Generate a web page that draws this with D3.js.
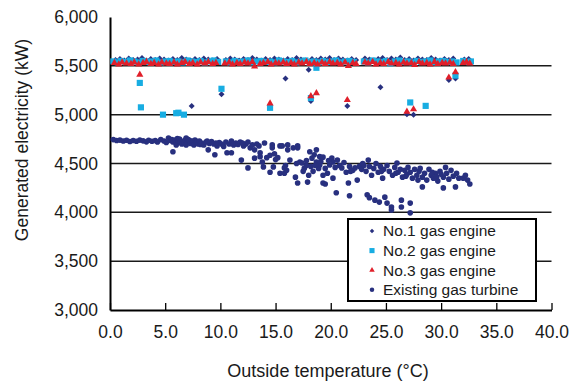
<!DOCTYPE html>
<html>
<head>
<meta charset="utf-8">
<script src="https://cdn.jsdelivr.net/npm/d3@7"></script>
<style>
  body { margin: 0; background: #fff; }
  svg { font-family: "Liberation Sans", Arial, sans-serif; }
</style>
</head>
<body>
<div id="chart"></div>
<script>
// tick values
var xTicks = [0, 5, 10, 15, 20, 25, 30, 35, 40];
var yTicks = [3000, 3500, 4000, 4500, 5000, 5500, 6000];
var gridValues = [3500, 4000, 4500, 5000, 5500];

var seriesNames = ["No.1 gas engine", "No.2 gas engine", "No.3 gas engine", "Existing gas turbine"];

// [outside temperature, kW]
var engine1 = [
  [0.5,5560],[0.9,5570],[1.3,5555],[1.7,5575],[2.1,5560],[2.5,5565],[2.9,5580],[3.3,5555],[3.7,5570],[4.1,5560],
  [4.5,5575],[4.9,5565],[5.3,5555],[5.7,5570],[6.1,5560],[6.5,5580],[6.9,5565],[7.3,5555],[7.7,5570],[8.1,5560],
  [8.5,5575],[8.9,5565],[9.3,5555],[9.7,5570],[10.5,5560],[10.9,5575],[11.3,5565],[11.7,5555],[12.1,5570],[12.5,5560],
  [12.9,5580],[13.3,5565],[13.7,5555],[14.1,5570],[14.5,5560],[14.9,5575],[15.3,5565],[15.7,5555],[16.1,5570],[16.5,5560],
  [16.9,5580],[17.3,5565],[17.7,5555],[18.3,5570],[18.7,5560],[19.1,5575],[19.5,5565],[19.9,5580],[20.3,5560],[20.7,5575],
  [21.1,5565],[21.5,5555],[21.9,5570],[22.3,5560],[23.1,5575],[23.5,5565],[23.9,5555],[24.3,5570],[24.7,5580],[25.1,5560],
  [25.5,5575],[25.9,5565],[26.3,5585],[26.7,5560],[27.1,5570],[27.5,5555],[27.9,5575],[28.3,5565],[28.7,5560],[29.1,5580],
  [29.5,5565],[29.9,5555],[30.3,5570],[30.7,5560],[31.1,5575],[32.1,5565],[32.5,5570],
  [7.4,5090],[10.1,5210],[15.9,5370],[18.0,5460],[18.2,5140],[21.5,5090],[24.5,5280],[26.9,5005],[27.5,5000],[30.7,5355],[31.3,5370]
];

var engine2 = [
  [0.3,5545],[0.7,5535],[1.0,5550],[1.4,5540],[1.8,5555],[2.2,5545],[2.6,5535],[3.0,5550],[3.4,5540],[3.8,5545],
  [4.2,5555],[4.6,5535],[5.0,5545],[5.4,5550],[5.8,5540],[6.2,5545],[6.6,5535],[7.0,5555],[7.4,5545],[7.8,5540],
  [8.2,5550],[8.6,5535],[9.0,5545],[9.4,5555],[9.8,5540],[10.5,5545],[10.9,5535],[11.3,5550],[11.7,5540],[12.1,5545],
  [12.5,5555],[12.9,5535],[13.3,5545],[13.7,5550],[14.1,5540],[14.5,5545],[14.9,5535],[15.3,5555],[15.7,5545],[16.1,5540],
  [16.5,5550],[16.9,5535],[17.3,5545],[17.7,5555],[18.1,5540],[18.5,5545],[18.9,5535],[19.3,5550],[19.7,5540],[20.1,5545],
  [20.5,5555],[20.9,5535],[21.3,5545],[21.7,5550],[22.1,5540],[23.0,5545],[23.4,5535],[23.8,5555],[24.2,5545],[24.6,5540],
  [25.0,5550],[25.4,5525],[25.8,5545],[26.2,5555],[26.6,5540],[27.0,5545],[27.4,5535],[27.8,5550],[28.2,5540],[28.6,5545],
  [29.0,5555],[29.4,5535],[29.8,5545],[30.2,5550],[30.6,5540],[31.0,5545],[31.4,5535],[32.0,5550],[32.4,5540],[32.7,5545],
  [2.7,5325],[2.8,5075],[4.8,5000],[6.0,5015],[6.2,5020],[6.7,5000],[10.1,5265],[14.5,5070],[18.7,5480],[18.2,5170],
  [27.2,5125],[28.6,5090],[31.3,5400]
];

var engine3 = [
  [0.4,5530],[0.8,5515],[1.1,5535],[1.5,5525],[1.9,5520],[2.2,5535],[2.6,5515],[3.0,5530],[3.3,5540],[3.7,5520],
  [4.0,5530],[4.4,5515],[4.7,5535],[5.1,5525],[5.4,5520],[5.8,5535],[6.1,5515],[6.5,5530],[6.8,5540],[7.2,5520],
  [7.5,5530],[7.9,5515],[8.2,5535],[8.6,5525],[8.9,5540],[9.3,5520],[9.6,5530],[10.4,5525],[10.8,5535],[11.1,5515],
  [11.5,5530],[11.8,5520],[12.2,5535],[12.5,5525],[12.9,5540],[13.1,5495],[13.6,5520],[13.9,5530],[14.3,5540],[14.6,5515],
  [15.0,5530],[15.3,5525],[15.7,5535],[16.0,5520],[16.4,5530],[16.7,5515],[17.1,5535],[17.4,5525],[17.8,5540],[18.1,5520],
  [18.5,5530],[18.8,5515],[19.2,5535],[19.5,5520],[19.9,5540],[20.2,5525],[20.6,5530],[20.9,5515],[21.3,5535],[21.6,5500],
  [22.0,5530],[22.3,5520],[23.1,5535],[23.4,5525],[23.8,5540],[24.1,5515],[24.5,5530],[24.8,5520],[25.2,5540],[25.5,5525],
  [25.9,5530],[26.2,5515],[26.6,5535],[26.9,5525],[27.3,5530],[27.6,5510],[28.0,5540],[28.3,5525],[28.7,5530],[29.0,5515],
  [29.4,5540],[29.7,5520],[30.1,5530],[30.4,5525],[30.8,5535],[31.1,5520],[32.0,5530],[32.3,5540],[32.6,5525],
  [2.7,5410],[14.5,5115],[18.2,5190],[18.7,5220],[21.5,5150],[26.9,5030],[27.5,5055],[30.7,5380],[31.3,5435]
];

var turbine = [
  [0.3,4745],[0.6,4735],[0.9,4740],[1.2,4730],[1.5,4738],[1.8,4725],[2.1,4735],[2.4,4728],[2.7,4740],[3.0,4732],
  [3.3,4722],[3.5,4738],[3.8,4728],[4.1,4735],[4.3,4720],[4.6,4745],[4.9,4730],[5.1,4715],[5.3,4760],[5.5,4735],
  [5.6,4745],[5.7,4720],[5.7,4620],[5.9,4740],[6.0,4710],[6.0,4690],[6.1,4755],[6.2,4730],[6.3,4750],[6.4,4720],
  [6.5,4700],[6.6,4725],[6.7,4705],[6.8,4740],[6.9,4690],[6.9,4760],[7.0,4715],[7.1,4745],[7.2,4735],[7.3,4705],
  [7.4,4730],[7.5,4725],[7.6,4690],[7.7,4740],[7.8,4715],[7.9,4725],[8.0,4700],[8.1,4730],[8.2,4695],[8.3,4710],
  [8.5,4690],[8.7,4720],[8.9,4640],[9.0,4705],[9.2,4725],[9.4,4700],[9.5,4590],[9.7,4680],[9.9,4715],[10.1,4700],
  [10.3,4675],[10.5,4720],[10.6,4610],[10.8,4700],[11.0,4610],[11.0,4730],[11.2,4690],[11.4,4710],[11.6,4695],[11.8,4720],
  [11.9,4535],[12.1,4680],[12.3,4700],[12.5,4720],[12.5,4455],[12.7,4660],[12.9,4690],[13.1,4555],[13.1,4640],[13.3,4700],
  [13.6,4610],[13.6,4570],[13.8,4515],[13.9,4465],[14.0,4710],[14.2,4560],[14.5,4410],[14.5,4585],[14.7,4690],[14.7,4660],
  [14.8,4465],[15.0,4540],[15.2,4560],[15.4,4400],[15.4,4680],[15.6,4680],[15.8,4455],[15.8,4400],[16.0,4430],[16.1,4690],
  [16.1,4640],[16.3,4535],[16.6,4660],[16.8,4360],[17.0,4660],[17.0,4300],[17.0,4680],[17.2,4515],[17.4,4505],[17.5,4420],
  [17.6,4450],[17.8,4480],[17.8,4530],[17.9,4310],[18.0,4380],[18.1,4620],[18.2,4470],[18.3,4555],[18.4,4420],[18.5,4590],
  [18.7,4640],[18.7,4515],[18.9,4450],[19.0,4485],[19.0,4570],[19.1,4520],[19.3,4565],[19.3,4380],[19.3,4300],[19.5,4290],
  [19.5,4450],[19.7,4400],[19.9,4485],[20.1,4555],[20.2,4515],[20.2,4350],[20.5,4200],[20.6,4535],[20.8,4480],[21.0,4455],
  [21.2,4510],[21.4,4410],[21.6,4300],[21.7,4170],[21.7,4470],[22.0,4430],[22.2,4455],[22.4,4330],[22.6,4470],[22.8,4440],
  [23.0,4480],[23.2,4420],[23.4,4535],[23.5,4470],[23.3,4180],[23.5,4150],[23.7,4380],[23.9,4450],[24.0,4125],[24.1,4500],
  [24.3,4410],[24.4,4105],[24.5,4470],[24.7,4350],[24.8,4440],[24.9,4155],[25.1,4095],[25.1,4480],[25.3,4420],[25.5,4055],
  [25.5,4025],[25.6,4380],[25.8,4460],[26.0,4505],[26.1,4410],[26.3,4440],[26.4,4125],[26.4,4055],[26.5,4360],[26.7,4430],
  [26.9,4390],[27.0,4460],[27.2,4095],[27.2,3995],[27.2,4410],[27.4,4350],[27.6,4440],[27.8,4380],[28.0,4420],[28.3,4260],
  [28.3,4360],[28.5,4400],[28.7,4330],[28.9,4440],[29.1,4380],[29.3,4350],[29.5,4400],[29.7,4320],[29.9,4420],[30.2,4250],
  [30.2,4360],[30.4,4460],[30.5,4400],[30.7,4340],[30.9,4430],[31.1,4370],[31.3,4260],[31.4,4400],[31.6,4350],[32.0,4350],
  [32.2,4380],[32.4,4330],[32.6,4290],
  [26.8,4370],[27.9,4330],[28.1,4450],[29.2,4410],[29.6,4360],[30.0,4390],[24.6,4420],[25.9,4400],[22.9,4500],[21.8,4420],
  [20.4,4460],[19.8,4530],[18.6,4480],[16.9,4500],[15.9,4480],[14.9,4600],[13.5,4680],[12.0,4710],[9.6,4710],[8.8,4730]
];

var svg = d3.select('#chart').append('svg')
  .attr('width', 571).attr('height', 383);

var xScale = d3.scaleLinear().domain([0, 40]).range([110, 551.5]);
var yScale = d3.scaleLinear().domain([3000, 6000]).range([310, 17]);

// gridlines
svg.append('g').selectAll('line')
  .data(gridValues).enter().append('line')
  .attr('x1', xScale(0)).attr('x2', xScale(40))
  .attr('y1', function(d) { return yScale(d); })
  .attr('y2', function(d) { return yScale(d); })
  .attr('stroke', '#1a1a1a').attr('stroke-width', 1.5);

// axes
var xAxis = d3.axisBottom(xScale)
  .tickValues(xTicks)
  .tickFormat(d3.format('.1f'))
  .tickSizeInner(-7).tickSizeOuter(0)
  .tickPadding(16);

var yAxis = d3.axisLeft(yScale)
  .tickValues(yTicks)
  .tickFormat(d3.format(','))
  .tickSize(0)
  .tickPadding(12);

var gx = svg.append('g')
  .attr('transform', 'translate(0,' + yScale(3000) + ')')
  .call(xAxis);
var gy = svg.append('g')
  .attr('transform', 'translate(' + xScale(0) + ',0)')
  .call(yAxis);

[gx, gy].forEach(function(g) {
  g.select('.domain').attr('stroke', '#000').attr('stroke-width', 2);
  g.selectAll('.tick line').attr('stroke', '#000').attr('stroke-width', 1.3);
  g.selectAll('.tick text').attr('fill', '#1a1a1a')
    .style('font-size', '17.5px').style('font-family', '"Liberation Sans", Arial, sans-serif');
});

// axis titles
svg.append('text')
  .attr('x', 328).attr('y', 377)
  .attr('text-anchor', 'middle')
  .style('font-size', '18px').attr('fill', '#1a1a1a')
  .text('Outside temperature (°C)');

svg.append('text')
  .attr('transform', 'translate(28,140) rotate(-90)')
  .attr('text-anchor', 'middle')
  .style('font-size', '17.5px').attr('fill', '#1a1a1a')
  .text('Generated electricity (kW)');

// markers
var navy = '#28307f', cyan = '#18ade2', red = '#e01f2a';

var diamond = d3.symbol().type(d3.symbolSquare).size(18);
var square = d3.symbol().type(d3.symbolSquare).size(38);
var triangle = d3.symbol().type(d3.symbolTriangle).size(22);
var circle = d3.symbol().type(d3.symbolCircle).size(25);

function drawSeries(data, sym, color, rot) {
  svg.append('g').selectAll('path')
    .data(data).enter().append('path')
    .attr('d', sym)
    .attr('transform', function(d) {
      return 'translate(' + xScale(d[0]) + ',' + yScale(d[1]) + ')' + (rot ? ' rotate(45)' : '');
    })
    .attr('fill', color);
}

drawSeries(turbine, circle, navy, false);
drawSeries(engine1, diamond, navy, true);
drawSeries(engine2, square, cyan, false);
drawSeries(engine3, triangle, red, false);

// legend
var legend = svg.append('g').attr('transform', 'translate(348,219)');
legend.append('rect')
  .attr('width', 188).attr('height', 82)
  .attr('fill', '#fff').attr('stroke', '#000').attr('stroke-width', 2);

var legendSyms = [
  { sym: d3.symbol().type(d3.symbolSquare).size(10), color: navy, rot: true },
  { sym: d3.symbol().type(d3.symbolSquare).size(26), color: cyan, rot: false },
  { sym: d3.symbol().type(d3.symbolTriangle).size(13), color: red, rot: false },
  { sym: d3.symbol().type(d3.symbolCircle).size(16), color: navy, rot: false }
];

var items = legend.selectAll('g.item')
  .data(seriesNames).enter().append('g')
  .attr('class', 'item')
  .attr('transform', function(d, i) { return 'translate(0,' + (12 + i * 19.6) + ')'; });

items.append('path')
  .attr('d', function(d, i) { return legendSyms[i].sym(); })
  .attr('fill', function(d, i) { return legendSyms[i].color; })
  .attr('transform', function(d, i) { return 'translate(24,0)' + (legendSyms[i].rot ? ' rotate(45)' : ''); });

items.append('text')
  .attr('x', 35).attr('dy', '0.35em')
  .style('font-size', '15.5px').attr('fill', '#1a1a1a')
  .text(function(d) { return d; });
</script>
</body>
</html>
